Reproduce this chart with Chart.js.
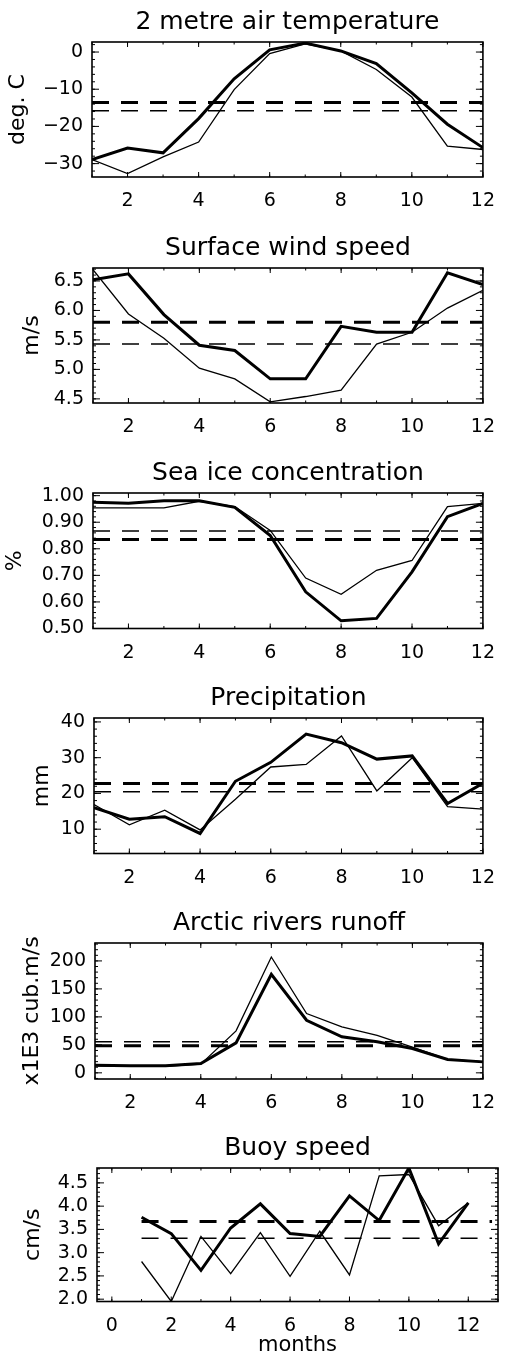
<!DOCTYPE html>
<html>
<head>
<meta charset="utf-8">
<title>Arctic monthly climatology</title>
<script src="https://cdn.jsdelivr.net/npm/chart.js@4.4.1/dist/chart.umd.min.js"></script>
<style>
  html, body { margin: 0; padding: 0; background: #fff; }
  body { width: 508px; height: 1358px; position: relative; overflow: hidden; }
  canvas { position: absolute; left: 0; }
</style>
</head>
<body>
<script>
// ---- data ----
const months = [1, 2, 3, 4, 5, 6, 7, 8, 9, 10, 11, 12];
const monthTicks = [2, 4, 6, 8, 10, 12];
const monthTicksLast = [0, 2, 4, 6, 8, 10, 12];
const monthRange = [1, 12];
const monthRangeLast = [-0.5, 13];
const meanSpan = [1, 12];
const meanSpanLast = [1, 12.8];

// 2 metre air temperature (deg. C)
const tempBold = [-28.9, -25.8, -27.1, -17.9, -7.2, 0.6, 2.4, 0.3, -3.1, -11.0, -19.4, -25.7];
const tempThin = [-28.9, -32.7, -28.2, -24.2, -10.1, -0.4, 2.2, 0.3, -4.7, -12.1, -25.3, -26.2];
const tempMeans = [-13.6, -15.8];
const tempTicks = [-30, -20, -10, 0];
const tempRange = [-33.6, 2.7];

// Surface wind speed (m/s)
const windBold = [6.52, 6.62, 5.93, 5.41, 5.32, 4.84, 4.84, 5.73, 5.63, 5.63, 6.64, 6.44];
const windThin = [6.69, 5.94, 5.53, 5.02, 4.84, 4.45, 4.54, 4.65, 5.43, 5.63, 6.04, 6.34];
const windMeans = [5.80, 5.43];
const windTicks = [4.5, 5.0, 5.5, 6.0, 6.5];
const windRange = [4.43, 6.72];

// Sea ice concentration (%)
const iceBold = [0.975, 0.971, 0.981, 0.981, 0.956, 0.85, 0.638, 0.529, 0.538, 0.713, 0.921, 0.971];
const iceThin = [0.954, 0.954, 0.954, 0.979, 0.959, 0.869, 0.69, 0.629, 0.719, 0.756, 0.959, 0.971];
const iceMeans = [0.835, 0.867];
const iceTicks = [0.5, 0.6, 0.7, 0.8, 0.9, 1.0];
const iceRange = [0.50, 1.01];

// Precipitation (mm)
const precipBold = [16.0, 12.8, 13.5, 8.8, 23.4, 28.7, 36.6, 34.2, 29.6, 30.5, 17.2, 22.8];
const precipThin = [16.9, 11.2, 15.3, 9.8, 18.4, 27.4, 28.1, 36.1, 20.7, 30.0, 16.3, 15.6];
const precipMeans = [22.8, 20.5];
const precipTicks = [10, 20, 30, 40];
const precipRange = [3.2, 41.1];

// Arctic rivers runoff (x1E3 cub.m/s)
const runoffBold = [13.7, 12.5, 12.5, 16.7, 53.6, 176, 94, 64.3, 55.4, 43.5, 23.8, 19.6];
const runoffThin = [12.5, 11.5, 11.5, 15.5, 75, 207, 106, 82, 67, 46, 24, 20];
const runoffMeans = [48.5, 55.5];
const runoffTicks = [0, 50, 100, 150, 200];
const runoffRange = [-11, 232];

// Buoy speed (cm/s)
const buoyBold = [3.76, 3.41, 2.62, 3.53, 4.05, 3.41, 3.35, 4.22, 3.69, 4.82, 3.19, 4.07];
const buoyThin = [2.81, 1.95, 3.35, 2.55, 3.43, 2.49, 3.46, 2.52, 4.65, 4.68, 3.58, 4.07];
const buoyMeans = [3.67, 3.31];
const buoyTicks = [2.0, 2.5, 3.0, 3.5, 4.0, 4.5];
const buoyRange = [1.95, 4.82];

const FONT = '"DejaVu Sans", sans-serif';
const minus = (v) => (v < 0 ? '\u2212' + Math.abs(v) : String(v));

/**
 * @description Panels, top to bottom: data plus the frame each one sits in.
 */
const panels = [
  { title: '2 metre air temperature', unit: 'deg. C', bold: tempBold, thin: tempThin, means: tempMeans,
    yTicks: tempTicks, yRange: tempRange, yMinor: 2, fmt: minus,
    frame: { top: 0, height: 225, boxTop: 42, boxHeight: 135, left: 92, right: 493, unitX: 18 } },
  { title: 'Surface wind speed', unit: 'm/s', bold: windBold, thin: windThin, means: windMeans,
    yTicks: windTicks, yRange: windRange, yMinor: 0.1, fmt: (v) => v.toFixed(1),
    frame: { top: 225, height: 225, boxTop: 43, boxHeight: 135, left: 93, right: 493, unitX: 32 } },
  { title: 'Sea ice concentration', unit: '%', bold: iceBold, thin: iceThin, means: iceMeans,
    yTicks: iceTicks, yRange: iceRange, yMinor: 0.02, fmt: (v) => v.toFixed(2),
    frame: { top: 450, height: 225, boxTop: 43, boxHeight: 135.5, left: 93, right: 495, unitX: 15 } },
  { title: 'Precipitation', unit: 'mm', bold: precipBold, thin: precipThin, means: precipMeans,
    yTicks: precipTicks, yRange: precipRange, yMinor: 2, fmt: (v) => String(v),
    frame: { top: 675, height: 225, boxTop: 43, boxHeight: 135.5, left: 94, right: 495, unitX: 42 } },
  { title: 'Arctic rivers runoff', unit: 'x1E3 cub.m/s', bold: runoffBold, thin: runoffThin, means: runoffMeans,
    yTicks: runoffTicks, yRange: runoffRange, yMinor: 10, fmt: (v) => String(v),
    frame: { top: 900, height: 225, boxTop: 43, boxHeight: 136, left: 95, right: 497, unitX: 32 } },
  { title: 'Buoy speed', unit: 'cm/s', bold: buoyBold, thin: buoyThin, means: buoyMeans,
    yTicks: buoyTicks, yRange: buoyRange, yMinor: 0.1, fmt: (v) => v.toFixed(1), last: true,
    frame: { top: 1125, height: 233, boxTop: 43, boxHeight: 133.5, left: 97, right: 498, unitX: 33 } },
];

/**
 * @description Box round the plot with inward major and minor ticks on all four sides.
 */
const idlFrame = {
  id: 'idlFrame',
  beforeDatasetsDraw(chart, args, opts) {
    const { ctx, chartArea: a, scales: { x, y } } = chart;
    ctx.save();
    ctx.strokeStyle = '#000';
    ctx.lineWidth = 1.6;
    ctx.strokeRect(a.left, a.top, a.right - a.left, a.bottom - a.top);

    const steps = (min, max, step) => {
      const out = [];
      for (let k = Math.ceil(min / step - 1e-6); k * step <= max + 1e-9; k++) out.push(k * step);
      return out;
    };

    ctx.lineWidth = 1;
    ctx.beginPath();
    const yMark = (v, len) => {
      const py = y.getPixelForValue(v);
      ctx.moveTo(a.left, py); ctx.lineTo(a.left + len, py);
      ctx.moveTo(a.right, py); ctx.lineTo(a.right - len, py);
    };
    const xMark = (v, len) => {
      const px = x.getPixelForValue(v);
      ctx.moveTo(px, a.bottom); ctx.lineTo(px, a.bottom - len);
      ctx.moveTo(px, a.top); ctx.lineTo(px, a.top + len);
    };
    steps(y.min, y.max, opts.yMinor).forEach((v) => yMark(v, 3));
    y.ticks.forEach((t) => yMark(t.value, 7));
    steps(x.min, x.max, 1).forEach((v) => xMark(v, 2.5));
    x.ticks.forEach((t) => xMark(t.value, 5));
    ctx.stroke();
    ctx.restore();
  }
};

/**
 * @description Panel title centred over the plot box.
 */
const panelTitle = {
  id: 'panelTitle',
  afterDraw(chart, args, opts) {
    const { ctx, chartArea: a } = chart;
    ctx.save();
    ctx.font = `25px ${FONT}`;
    ctx.fillStyle = '#000';
    ctx.textAlign = 'center';
    ctx.textBaseline = 'alphabetic';
    ctx.fillText(opts.text, (a.left + a.right) / 2, a.top - 13);
    ctx.restore();
  }
};

/**
 * @description Renders one panel into its own canvas.
 * @param {object} p - The panel description.
 */
const renderPanel = (p) => {
  const f = p.frame;
  const canvas = document.createElement('canvas');
  canvas.width = 508;
  canvas.height = f.height;
  canvas.style.top = f.top + 'px';
  document.body.appendChild(canvas);

  const xRange = p.last ? monthRangeLast : monthRange;
  const xTicks = p.last ? monthTicksLast : monthTicks;
  const span = p.last ? meanSpanLast : meanSpan;
  const points = (vals) => months.map((m, i) => ({ x: m, y: vals[i] }));
  const flat = (v) => span.map((m) => ({ x: m, y: v }));

  new Chart(canvas, {
    type: 'line',
    data: {
      datasets: [
        { data: points(p.bold), borderColor: '#000', borderWidth: 3, pointRadius: 0, tension: 0 },
        { data: points(p.thin), borderColor: '#000', borderWidth: 1.3, pointRadius: 0, tension: 0 },
        { data: flat(p.means[0]), borderColor: '#000', borderWidth: 3, borderDash: [17, 12], pointRadius: 0 },
        { data: flat(p.means[1]), borderColor: '#000', borderWidth: 1.5, borderDash: [17, 12], pointRadius: 0 },
      ]
    },
    options: {
      responsive: false,
      animation: false,
      devicePixelRatio: 1,
      layout: { padding: { top: f.boxTop, right: 508 - f.right, bottom: 0, left: 0 } },
      plugins: {
        legend: { display: false },
        tooltip: { enabled: false },
        panelTitle: { text: p.title },
        idlFrame: { yMinor: p.yMinor },
      },
      scales: {
        x: {
          type: 'linear',
          min: xRange[0],
          max: xRange[1],
          grid: { display: false, drawTicks: false },
          border: { display: false },
          ticks: { padding: 13, color: '#000', font: { family: FONT, size: 19 }, autoSkip: false, maxRotation: 0,
            callback: (v) => String(v) },
          afterBuildTicks: (s) => { s.ticks = xTicks.map((v) => ({ value: v })); },
          afterFit: (s) => { s.height = f.height - f.boxTop - f.boxHeight; },
          title: { display: !!p.last, text: 'months', color: '#000', font: { family: FONT, size: 21 },
            padding: { top: 0, bottom: 0 } },
        },
        y: {
          type: 'linear',
          min: p.yRange[0],
          max: p.yRange[1],
          grid: { display: false, drawTicks: false },
          border: { display: false },
          ticks: { padding: 9, color: '#000', font: { family: FONT, size: 19 }, autoSkip: false,
            callback: (v) => p.fmt(v) },
          afterBuildTicks: (s) => { s.ticks = p.yTicks.map((v) => ({ value: v })); },
          afterFit: (s) => { s.width = f.left; },
          title: { display: true, text: p.unit, color: '#000', font: { family: FONT, size: 22 },
            padding: { top: f.unitX - 13.2, bottom: 0 } },
        }
      }
    },
    plugins: [idlFrame, panelTitle]
  });
};

panels.forEach(renderPanel);
</script>
</body>
</html>
